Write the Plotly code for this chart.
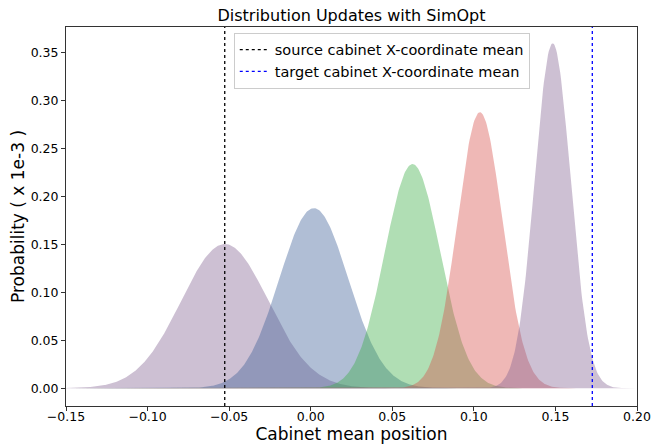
import numpy as np
import plotly.graph_objects as go

# Distribution parameters
means = [-0.0527, 0.0019, 0.0624, 0.1037, 0.1483]
sigmas = [0.0267, 0.0212, 0.0170, 0.0138, 0.0110]
peaks = [0.1505, 0.188, 0.234, 0.288, 0.360]
fill_colors = ["rgba(130,98,145,0.4)", "rgba(58,93,150,0.4)", "rgba(58,173,68,0.4)",
               "rgba(215,78,73,0.4)", "rgba(130,98,145,0.4)"]

source_mean = -0.0527
target_mean = 0.1726

x_ticks = [-0.15, -0.10, -0.05, 0.00, 0.05, 0.10, 0.15, 0.20]
y_ticks = [0.00, 0.05, 0.10, 0.15, 0.20, 0.25, 0.30, 0.35]

x_range = [-0.15, 0.20]
y_range = [-0.0185, 0.377]

xs = np.linspace(-0.15, 0.20, 700)

fig = go.Figure()
for m, s, p, c in zip(means, sigmas, peaks, fill_colors):
    ys = p * np.exp(-0.5 * ((xs - m) / s) ** 2)
    fig.add_trace(go.Scatter(x=xs, y=ys, mode="lines", line=dict(width=0, color=c),
                             fill="tozeroy", fillcolor=c, showlegend=False, hoverinfo="skip"))

fig.add_trace(go.Scatter(x=[source_mean, source_mean], y=y_range, mode="lines",
                         line=dict(color="black", width=1.3, dash="dot"),
                         name="source cabinet X-coordinate mean"))
fig.add_trace(go.Scatter(x=[target_mean, target_mean], y=y_range, mode="lines",
                         line=dict(color="blue", width=1.3, dash="dot"),
                         name="target cabinet X-coordinate mean"))

def fmt(v):
    return f"{v:.2f}".replace("-", "\u2212")

axis_common = dict(showline=True, linecolor="#333", linewidth=1, mirror=True,
                   ticks="outside", ticklen=4, tickcolor="#333", showgrid=False,
                   zeroline=False, automargin=False, tickfont=dict(size=12.5, color="black"))

fig.update_layout(
    width=652, height=444,
    margin=dict(l=66, r=15, t=27, b=38),
    paper_bgcolor="white", plot_bgcolor="white",
    font=dict(family="DejaVu Sans", color="black"),
    title=dict(text="Distribution Updates with SimOpt", x=0.5, xanchor="center",
               xref="paper", y=0.965, yanchor="middle", font=dict(size=16), automargin=False),
    xaxis=dict(range=x_range, tickvals=x_ticks, ticktext=[fmt(v) for v in x_ticks],
               ticklabelstandoff=-5,
               title=dict(text="Cabinet mean position", font=dict(size=17), standoff=9),
               **axis_common),
    yaxis=dict(range=y_range, tickvals=y_ticks, ticktext=[fmt(v) for v in y_ticks],
               title=dict(text="Probability ( x 1e-3 )", font=dict(size=17), standoff=1),
               **axis_common),
    legend=dict(x=0.553, y=0.985, xanchor="center", yanchor="top",
                bgcolor="rgba(255,255,255,0.8)", bordercolor="#ccc", borderwidth=1,
                font=dict(size=14.5), itemwidth=30, tracegroupgap=4),
)

fig.write_html("out.html", config={"displayModeBar": False},
               post_script="document.body.style.margin='0';document.body.style.padding='0';")
